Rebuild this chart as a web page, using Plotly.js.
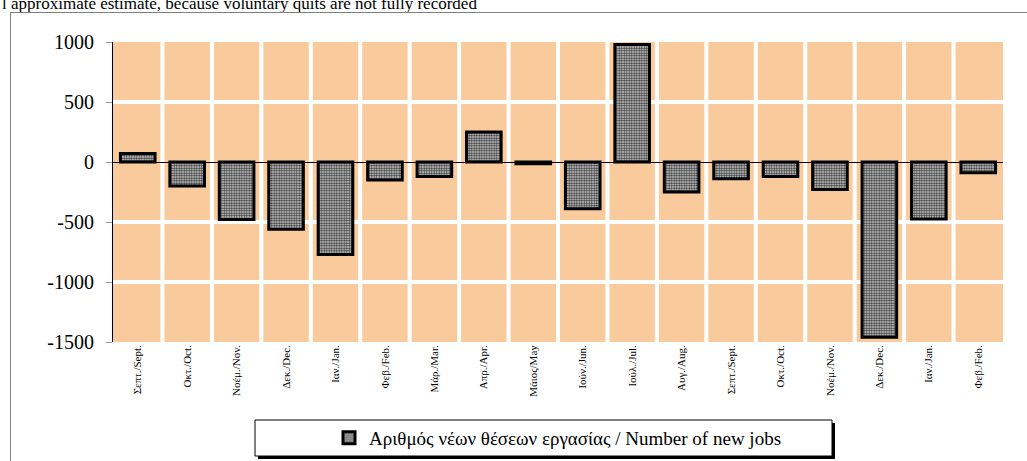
<!DOCTYPE html>
<html>
<head>
<meta charset="utf-8">
<script src="https://cdn.plot.ly/plotly-3.0.1.min.js"></script>
<style>
html,body{margin:0;padding:0;background:#fff;}
#wrap{position:relative;width:1027px;height:461px;overflow:hidden;}
#chart{width:1027px;height:461px;}
#frame{position:absolute;left:10px;top:12px;width:1100px;height:500px;border:1px solid #7f7f7f;pointer-events:none;}
</style>
</head>
<body>
<div id="wrap"><div id="chart"></div><div id="frame"></div></div>
<script>
const categories = ["Σεπτ./Sept.","Οκτ./Oct.","Νοέμ./Nov.","Δεκ./Dec.","Ιαν./Jan.","Φεβ./Feb.","Μάρ./Mar.","Απρ./Apr.","Μάιος/May","Ιούν./Jun.","Ιούλ./Jul.","Αυγ./Aug.","Σεπτ./Sept.","Οκτ./Oct.","Νοέμ./Nov.","Δεκ./Dec.","Ιαν./Jan.","Φεβ./Feb."];
const newJobs = [70,-200,-480,-560,-770,-150,-120,250,-15,-390,980,-250,-140,-120,-230,-1460,-475,-90];
const seriesName = "Αριθμός νέων θέσεων εργασίας / Number of new jobs";
const yTicks = [1000,500,0,-500,-1000,-1500];
const noteText = "l approximate estimate, because voluntary quits are not fully recorded";

const xIdx = categories.map((c,i)=>i);
const font = "Liberation Serif";

const trace = {
  type: "bar",
  x: xIdx,
  y: newJobs,
  name: seriesName,
  marker: {
    color: "#9a9a9a",
    line: {color: "#000", width: 3},
    pattern: {shape: ".", fgcolor: "#303030", bgcolor: "#e0e0e0", size: 2.5, solidity: 0.55}
  },
  showlegend: true
};

const layout = {
  width: 1027, height: 461,
  margin: {l: 113, r: 24, t: 42, b: 119, autoexpand: false},
  paper_bgcolor: "rgba(0,0,0,0)",
  plot_bgcolor: "#F9CB9C",
  bargap: 0.3,
  font: {family: font, color: "#000"},
  xaxis: {
    type: "linear",
    range: [-0.5, categories.length - 0.5],
    tickmode: "array",
    tickvals: xIdx,
    ticktext: categories,
    tickangle: -90,
    tickfont: {size: 11, family: font},
    showgrid: false,
    zeroline: false,
    showline: false,
    ticks: "",
    automargin: false
  },
  yaxis: {
    range: [-1500, 1000],
    tickmode: "array",
    tickvals: yTicks,
    ticktext: yTicks.map(String),
    tickfont: {size: 20, family: font},
    showgrid: true,
    gridcolor: "#ffffff",
    gridwidth: 4,
    zeroline: true,
    zerolinecolor: "#000",
    zerolinewidth: 1,
    showline: true,
    linecolor: "#000",
    linewidth: 1,
    ticks: "outside",
    ticklen: 6,
    tickcolor: "#999",
    ticklabelstandoff: 8,
    automargin: false
  },
  shapes: [],
  legend: {
    orientation: "h",
    x: 0.5, xanchor: "center",
    y: -0.3, yanchor: "middle",
    yref: "paper",
    bgcolor: "rgba(0,0,0,0)",
    borderwidth: 0,
    font: {size: 19, family: font},
    itemwidth: 30
  },
  annotations: [
    {
      xref: "paper", yref: "paper", x: -113/890, y: 1, xanchor: "left", yanchor: "bottom",
      yshift: 27, text: noteText, showarrow: false, font: {size: 17, family: font}
    }
  ]
};

// vertical white separators between categories (grid decoration)
for (let i = 0; i < categories.length - 1; i++) {
  layout.shapes.push({type: "line", xref: "x", yref: "paper", x0: i + 0.5, x1: i + 0.5, y0: 0, y1: 1,
    line: {color: "#ffffff", width: 4}, layer: "below"});
}
// legend frame with shadow (paper coordinates)
const lx0 = (255 - 113) / 890, lx1 = (832 - 113) / 890;
const ly0 = (342 - 456) / 300, ly1 = (342 - 420) / 300;
const sx = 3 / 890, sy = 3 / 300;
layout.shapes.push({type: "rect", xref: "paper", yref: "paper", x0: lx0 + sx, x1: lx1 + sx, y0: ly0 - sy, y1: ly1 - sy,
  fillcolor: "#000", line: {width: 0}, layer: "above"});
layout.shapes.push({type: "rect", xref: "paper", yref: "paper", x0: lx0, x1: lx1, y0: ly0, y1: ly1,
  fillcolor: "#fff", line: {color: "#000", width: 1}, layer: "above"});
layout.legend.y = (ly0 + ly1) / 2;

Plotly.newPlot("chart", [trace], layout, {displayModeBar: false, staticPlot: true});
</script>
</body>
</html>
